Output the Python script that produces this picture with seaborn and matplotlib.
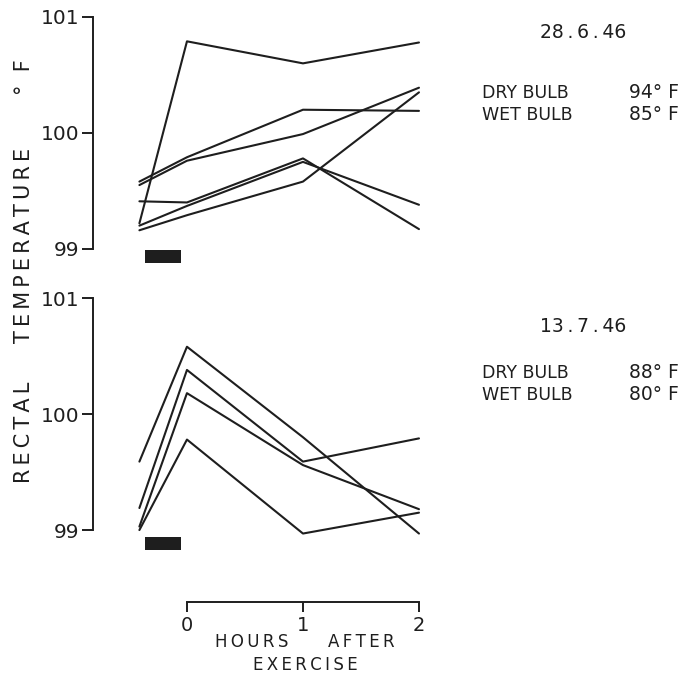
import pandas as pd
import seaborn as sns
import matplotlib.pyplot as plt

sns.set_style("ticks")
plt.rcParams['font.family'] = ['DejaVu Sans']

ink = "#1e1e1e"

# time in hours after exercise (first point = before exercise)
hours = [-0.41, 0, 1, 2]

# 28.6.46  dry bulb 94 F, wet bulb 85 F
jun_a = [99.22, 100.79, 100.60, 100.78]
jun_b = [99.58, 99.79, 100.20, 100.19]
jun_c = [99.55, 99.76, 99.99, 100.39]
jun_d = [99.41, 99.40, 99.78, 99.17]
jun_e = [99.20, 99.37, 99.75, 99.38]
jun_f = [99.16, 99.29, 99.58, 100.35]

# 13.7.46  dry bulb 88 F, wet bulb 80 F
jul_a = [99.59, 100.58, 99.80, 98.97]
jul_b = [99.19, 100.38, 99.59, 99.79]
jul_c = [99.03, 100.18, 99.56, 99.18]
jul_d = [99.00, 99.78, 98.97, 99.15]

# exercise period (black bar)
exercise = [-0.36, -0.05]

W, H = 689, 676


def spaced(s):
    # old stencil lettering is wide-spaced
    return "\u2009".join(s)


def long_form(series):
    rows = []
    for name, temps in series.items():
        for h, t in zip(hours, temps):
            rows.append({'subject': name, 'hours': h, 'temp': t})
    return pd.DataFrame(rows)


def px_axes(left, top, right, bottom):
    return fig.add_axes([left / W, 1 - bottom / H, (right - left) / W, (bottom - top) / H])


fig = plt.figure(figsize=(W / 100, H / 100), dpi=100)

ax_top = px_axes(93, 11.2, 430, 272)
ax_bot = px_axes(93, 292.2, 430, 602)

df_top = long_form({'a': jun_a, 'b': jun_b, 'c': jun_c, 'd': jun_d, 'e': jun_e, 'f': jun_f})
df_bot = long_form({'a': jul_a, 'b': jul_b, 'c': jul_c, 'd': jul_d})

for ax, df in [(ax_top, df_top), (ax_bot, df_bot)]:
    sns.lineplot(data=df, x='hours', y='temp', units='subject', estimator=None,
                 sort=False, color=ink, linewidth=1.5, ax=ax, legend=False)
    ax.set_xlim(-0.81, 2.095)
    ax.set_xlabel('')
    ax.set_ylabel('')
    ax.set_yticks([99, 100, 101])
    ax.set_yticklabels(['99', '100', '101'])
    ax.tick_params(axis='y', direction='out', length=8, width=1.4, pad=2,
                   labelsize=14.5, colors=ink)
    ax.spines['left'].set_bounds(99, 101)
    ax.spines['left'].set_linewidth(1.4)
    ax.spines['left'].set_color(ink)
    ax.patch.set_alpha(0)

ax_top.set_ylim(98.8, 101.05)
ax_top.fill_between(exercise, 98.88, 98.99, color=ink, lw=0)
sns.despine(ax=ax_top, bottom=True)
ax_top.set_xticks([])

ax_bot.set_ylim(98.38, 101.05)
ax_bot.fill_between(exercise, 98.83, 98.94, color=ink, lw=0)
sns.despine(ax=ax_bot)
ax_bot.spines['bottom'].set_bounds(0, 2)
ax_bot.spines['bottom'].set_linewidth(1.4)
ax_bot.spines['bottom'].set_color(ink)
ax_bot.set_xticks([0, 1, 2])
ax_bot.set_xticklabels(['0', '1', '2'])
ax_bot.tick_params(axis='x', direction='out', length=7, width=1.4, pad=3,
                   labelsize=14, colors=ink)

# y axis title, written bottom to top
fig.text(24 / W, 1 - 432 / H, spaced("RECTAL"), rotation=90, ha='center', va='center',
         fontsize=15, color=ink)
fig.text(24 / W, 1 - 245 / H, spaced("TEMPERATURE"), rotation=90, ha='center', va='center',
         fontsize=15, color=ink)
fig.text(24 / W, 1 - 77 / H, "°  F", rotation=90, ha='center', va='center',
         fontsize=15, color=ink)

# x axis title
fig.text(252 / W, 1 - 647 / H, spaced("HOURS"), ha='center', va='baseline', fontsize=12, color=ink)
fig.text(361 / W, 1 - 647 / H, spaced("AFTER"), ha='center', va='baseline', fontsize=12, color=ink)
fig.text(305 / W, 1 - 670 / H, spaced("EXERCISE"), ha='center', va='baseline', fontsize=12, color=ink)

# conditions on each day
notes = [
    ("28\u2009.\u20096\u2009.\u200946", 38, "94", 98, "85", 120),
    ("13\u2009.\u20097\u2009.\u200946", 332, "88", 378, "80", 400),
]
for date, y_date, dry, y_dry, wet, y_wet in notes:
    fig.text(583 / W, 1 - y_date / H, date, ha='center', va='baseline', fontsize=13.5, color=ink)
    fig.text(482 / W, 1 - y_dry / H, "DRY BULB", ha='left', va='baseline', fontsize=12.5, color=ink)
    fig.text(482 / W, 1 - y_wet / H, "WET BULB", ha='left', va='baseline', fontsize=12.5, color=ink)
    fig.text(629 / W, 1 - y_dry / H, dry + "° F", ha='left', va='baseline', fontsize=13.5, color=ink)
    fig.text(629 / W, 1 - y_wet / H, wet + "° F", ha='left', va='baseline', fontsize=13.5, color=ink)

fig.savefig("out.png", dpi=100, facecolor='white')
